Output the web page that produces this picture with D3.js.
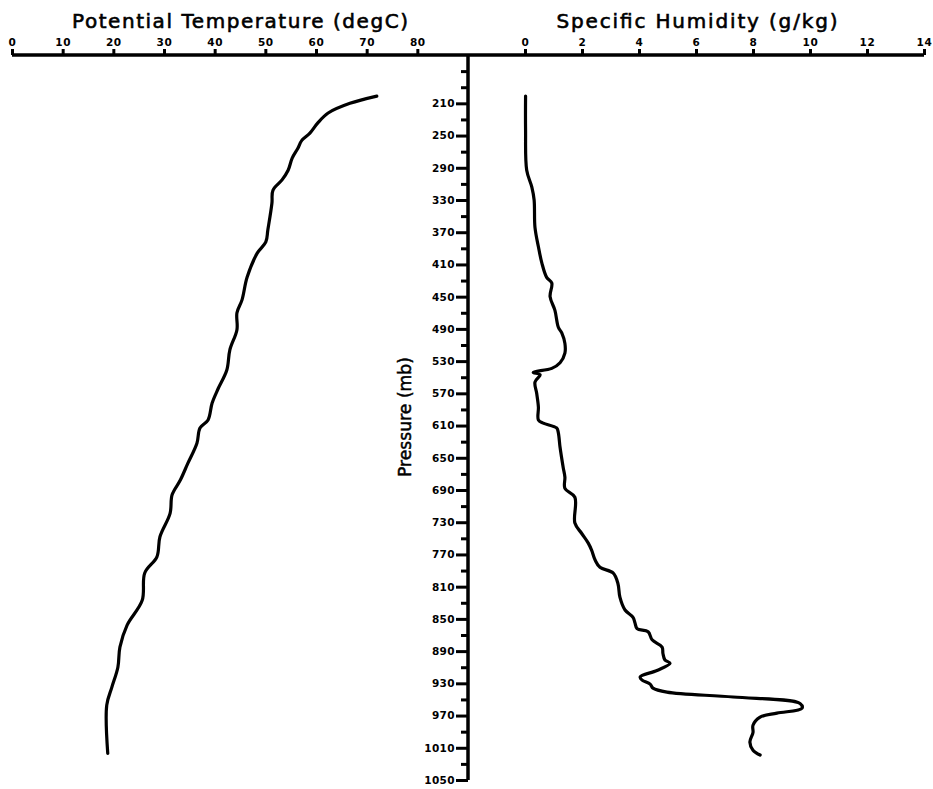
<!DOCTYPE html>
<html>
<head>
<meta charset="utf-8">
<script src="https://cdn.jsdelivr.net/npm/d3@7"></script>
<style>
  html, body { margin: 0; padding: 0; background: #fff; }
  svg { display: block; }
  text { font-family: "DejaVu Sans", sans-serif; fill: #000; }
</style>
</head>
<body>
<svg id="chart" width="933" height="789"></svg>
<script>
// Potential temperature sounding (degC) against pressure (mb)
const thetaP = [201, 210, 222, 234, 247, 256, 266, 278, 293, 305, 318, 334, 367, 382, 396, 426,
  454, 470, 491, 516, 541, 564, 582, 603, 613, 632, 657, 678, 696, 719, 748, 773, 793, 827,
  858, 885, 910, 935, 957, 1017];
const thetaT = [72.0, 66.7, 62.4, 60.4, 58.8, 57.2, 56.4, 55.3, 54.5, 53.3, 51.5, 51.3, 50.5, 50.1, 48.4, 46.4,
  45.4, 44.4, 44.4, 43.0, 42.4, 40.7, 39.5, 38.7, 37.1, 36.5, 34.7, 33.2, 31.6, 31.2, 29.2, 28.6, 26.2, 25.7,
  22.7, 21.3, 20.9, 19.7, 18.7, 18.9];

// Specific humidity sounding (g/kg) against pressure (mb)
const humP = [201, 243, 293, 314, 330, 364, 388, 408, 426, 433, 450, 467, 488, 495, 508, 520,
  532, 539, 544, 547, 556, 570, 587, 603, 607, 613, 619, 637, 662, 674, 688, 699, 731, 744,
  756, 765, 777, 786, 793, 806, 823, 839, 848, 855, 862, 866, 876, 885, 893, 901, 905, 914,
  922, 926, 931, 936, 941, 947, 955, 961, 967, 972, 982, 991, 1003, 1013, 1019];
const humQ = [0.02, 0.02, 0.06, 0.24, 0.32, 0.35, 0.47, 0.59, 0.76, 0.94, 0.88, 1.05, 1.17, 1.29, 1.40, 1.40,
  1.23, 0.94, 0.29, 0.53, 0.35, 0.41, 0.47, 0.47, 0.64, 1.11, 1.17, 1.23, 1.34, 1.40, 1.40, 1.75, 1.75, 1.99,
  2.22, 2.34, 2.46, 2.63, 3.09, 3.26, 3.33, 3.51, 3.79, 3.86, 3.93, 4.32, 4.46, 4.81, 4.84, 4.91, 5.09, 4.63,
  4.04, 4.11, 4.39, 4.49, 4.98, 7.30, 9.65, 9.72, 8.84, 8.25, 8.00, 8.00, 7.89, 8.00, 8.25];

// Axis ticks
const thetaTicks = [0, 10, 20, 30, 40, 50, 60, 70, 80];
const humTicks = [0, 2, 4, 6, 8, 10, 12, 14];
const pressureLabels = [210, 250, 290, 330, 370, 410, 450, 490, 530, 570, 610, 650, 690, 730, 770,
  810, 850, 890, 930, 970, 1010, 1050];
const pressureMinor = [170, 190, 230, 270, 310, 350, 390, 430, 470, 510, 550, 590, 630, 670, 710,
  750, 790, 830, 870, 910, 950, 990, 1030];

const svg = d3.select("#chart");
const axisY = 55, axisX = 468;

const xT = d3.scaleLinear().domain([0, 90]).range([12, axisX]);
const xQ = d3.scaleLinear().domain([-2, 14]).range([axisX, 924]);
const yP = d3.scaleLinear().domain([150, 1050]).range([axisY, 780]);

// Top axes
function styleTop(g) {
  g.select(".domain").remove();
  g.selectAll(".tick line").attr("stroke", "#000").attr("stroke-width", 3);
  g.selectAll(".tick text").attr("font-size", 10.5).attr("font-weight", "bold")
    .attr("letter-spacing", 0.6).attr("font-family", "DejaVu Sans, sans-serif");
}
svg.append("g").attr("transform", `translate(0,${axisY})`)
  .call(d3.axisTop(xT).tickValues(thetaTicks).tickSize(6).tickPadding(3).tickFormat(d3.format("d")))
  .call(styleTop);
svg.append("g").attr("transform", `translate(0,${axisY})`)
  .call(d3.axisTop(xQ).tickValues(humTicks).tickSize(6).tickPadding(3).tickFormat(d3.format("d")))
  .call(styleTop);

svg.append("line").attr("x1", xT(0)).attr("x2", xQ(14)).attr("y1", axisY).attr("y2", axisY)
  .attr("stroke", "#000").attr("stroke-width", 3.5);

// Pressure axis
svg.append("g").attr("transform", `translate(${axisX},0)`)
  .call(d3.axisLeft(yP).tickValues(pressureMinor).tickSize(7).tickFormat(""))
  .call(g => {
    g.select(".domain").remove();
    g.selectAll(".tick line").attr("stroke", "#000").attr("stroke-width", 3);
  });
svg.append("g").attr("transform", `translate(${axisX},0)`)
  .call(d3.axisLeft(yP).tickValues(pressureLabels).tickSize(12).tickPadding(1).tickFormat(d3.format("d")))
  .call(g => {
    g.select(".domain").remove();
    g.selectAll(".tick line").attr("stroke", "#000").attr("stroke-width", 3);
    g.selectAll(".tick text").attr("font-size", 10.5).attr("font-weight", "bold")
      .attr("letter-spacing", 0.4).attr("font-family", "DejaVu Sans, sans-serif");
  });
svg.append("line").attr("x1", axisX).attr("x2", axisX).attr("y1", axisY).attr("y2", yP(1050))
  .attr("stroke", "#000").attr("stroke-width", 3.5);

// Titles
svg.append("text").attr("x", 240).attr("y", 28).attr("text-anchor", "middle")
  .attr("font-size", 20).attr("stroke", "#000").attr("stroke-width", 0.6)
  .attr("textLength", 336).attr("lengthAdjust", "spacing")
  .text("Potential Temperature (degC)");
svg.append("text").attr("x", 697).attr("y", 28).attr("text-anchor", "middle")
  .attr("font-size", 20).attr("stroke", "#000").attr("stroke-width", 0.6)
  .attr("textLength", 281).attr("lengthAdjust", "spacing")
  .text("Specific Humidity (g/kg)");
svg.append("text").attr("transform", "translate(411,417) rotate(-90)").attr("text-anchor", "middle")
  .attr("font-size", 18).attr("font-family", "DejaVu Sans Condensed, DejaVu Sans, sans-serif")
  .attr("stroke", "#000").attr("stroke-width", 0.5)
  .attr("textLength", 120).attr("lengthAdjust", "spacingAndGlyphs")
  .text("Pressure (mb)");

// Profiles
const thetaLine = d3.line().curve(d3.curveCatmullRom.alpha(0.5))
  .x(i => xT(thetaT[i])).y(i => yP(thetaP[i]));
svg.append("path").attr("d", thetaLine(d3.range(thetaP.length)))
  .attr("fill", "none").attr("stroke", "#000").attr("stroke-width", 3.2)
  .attr("stroke-linejoin", "round").attr("stroke-linecap", "round");

const humLine = d3.line().curve(d3.curveCatmullRom.alpha(0.5))
  .x(i => xQ(humQ[i])).y(i => yP(humP[i]));
svg.append("path").attr("d", humLine(d3.range(humP.length)))
  .attr("fill", "none").attr("stroke", "#000").attr("stroke-width", 3.2)
  .attr("stroke-linejoin", "round").attr("stroke-linecap", "round");
</script>
</body>
</html>
